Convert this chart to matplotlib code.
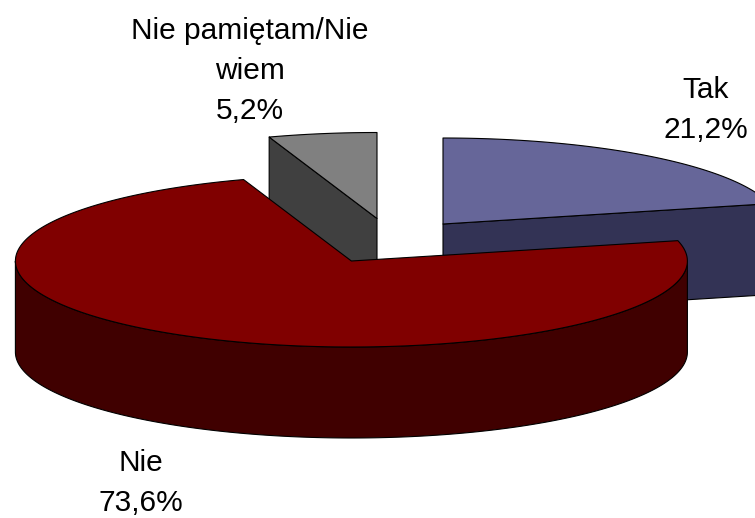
"""Wykres kolowy 3D: Tak / Nie / Nie pamietam."""
import numpy as np
import matplotlib
matplotlib.use("Agg")
import matplotlib.pyplot as plt

plt.rcParams["font.family"] = ["Liberation Sans", "DejaVu Sans"]

NAMES = ["Tak", "Nie", "Nie pamiętam/Nie\nwiem"]
SHARES = [21.2, 73.6, 5.2]
TOP_COLORS = ["#666699", "#800000", "#808080"]
WALL_COLORS = ["#333355", "#400000", "#404040"]

RX, RY, DEPTH = 336, 86, 91
# srodki wycinkow (eksplozja) w pikselach
CENTERS = [(443, 224), (351.4, 261), (377, 218.5)]
LABEL_POS = [(706, 110), (141, 483), (250, 71)]


def rim(cx, cy, a0, a1):
    """Punkty na elipsie, katy w stopniach od gory, zgodnie ze wskazowkami."""
    t = np.radians(np.linspace(a0, a1, 200))
    return cx + RX * np.sin(t), cy - RY * np.cos(t)


def draw_slice(ax, center, a0, a1, top, wall):
    cx, cy = center
    style = dict(edgecolor="black", linewidth=0.8, joinstyle="round")
    # sciany radialne: widoczne tylko gdy patrza w strone ogladajacego
    for a, front in ((a1, 0 < a1 < 180), (a0, 180 < a0 < 360)):
        if front and a1 - a0 < 180:
            x_end = cx + RX * np.sin(np.radians(a))
            y_end = cy - RY * np.cos(np.radians(a))
            ax.fill([cx, x_end, x_end, cx], [cy, y_end, y_end + DEPTH, cy + DEPTH],
                    facecolor=wall, **style)
    # bok zewnetrzny (tylko przod elipsy)
    lo, hi = max(a0, 90), min(a1, 270)
    if hi > lo:
        x, y = rim(cx, cy, lo, hi)
        ax.fill(np.r_[x, x[::-1]], np.r_[y, y[::-1] + DEPTH], facecolor=wall, **style)
    # wierzch
    x, y = rim(cx, cy, a0, a1)
    ax.fill(np.r_[cx, x], np.r_[cy, y], facecolor=top, **style)


def main():
    fig = plt.figure(figsize=(7.55, 5.18), dpi=100)
    ax = fig.add_axes([0, 0, 1, 1])
    ax.set_xlim(0, 755)
    ax.set_ylim(518, 0)
    ax.axis("off")

    angles = np.r_[0, np.cumsum(SHARES)] * 360 / sum(SHARES)
    for i in [0, 2, 1]:
        draw_slice(ax, CENTERS[i], angles[i], angles[i + 1], TOP_COLORS[i], WALL_COLORS[i])

    for name, share, (x, y) in zip(NAMES, SHARES, LABEL_POS):
        label = f"{name}\n{share:.1f}%".replace(".", ",")
        ax.text(x, y, label, ha="center", va="center", fontsize=21.5,
                color="black", linespacing=1.54)

    fig.savefig("out.png", dpi=100)
    plt.close(fig)


if __name__ == "__main__":
    main()
